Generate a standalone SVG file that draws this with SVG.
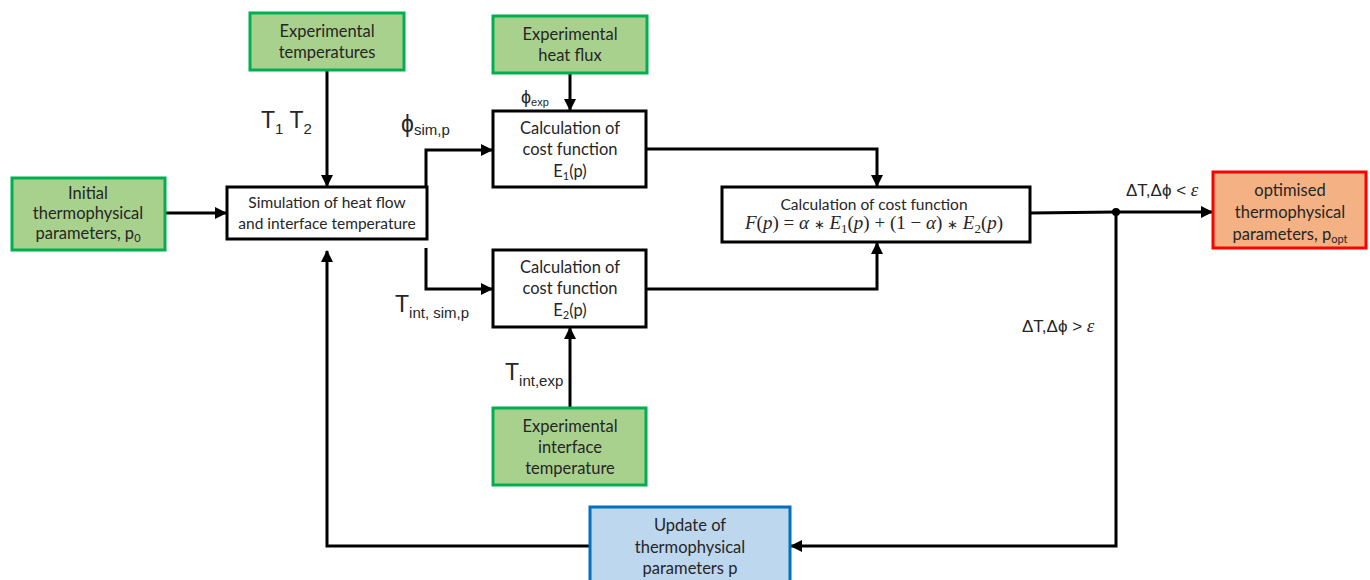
<svg xmlns="http://www.w3.org/2000/svg" width="1370" height="580" viewBox="0 0 1370 580">
<style>
.box{stroke-width:3}
.wht{fill:#ffffff;stroke:#000000}
.grn{fill:#a9d18e;stroke:#00b050}
.org{fill:#f4b183;stroke:#ff0000}
.blu{fill:#bdd7ee;stroke:#0070c0}
.t{font-family:Lato,"Liberation Sans",sans-serif;font-size:16.5px;fill:#262626;text-anchor:middle;dominant-baseline:central}
.ts{font-size:15.5px}
.lbl{font-family:"Liberation Sans",Lato,sans-serif;fill:#262626}
.math{font-family:"Liberation Serif",serif;font-size:19px;fill:#262626;text-anchor:middle}
.it{font-style:italic}
.ast{font-size:13px}
.conn{fill:none;stroke:#000000;stroke-width:3}
</style>
<defs>
<marker id="arr" viewBox="0 0 12 12" refX="11" refY="6" markerWidth="12" markerHeight="12" markerUnits="userSpaceOnUse" orient="auto">
<path d="M0,0 L12,6 L0,12 z" fill="#000000"/>
</marker>
</defs>
<rect width="1370" height="580" fill="#ffffff"/>

<g id="connectors">
<path class="conn" d="M327,70 V186" marker-end="url(#arr)"/>
<path class="conn" d="M165,213 H226" marker-end="url(#arr)"/>
<path class="conn" d="M426,188 V150 H492" marker-end="url(#arr)"/>
<path class="conn" d="M426,248 V289 H492" marker-end="url(#arr)"/>
<path class="conn" d="M570,73 V110" marker-end="url(#arr)"/>
<path class="conn" d="M646,149 H877 V186" marker-end="url(#arr)"/>
<path class="conn" d="M646,289 H877 V243" marker-end="url(#arr)"/>
<path class="conn" d="M570,408 V328" marker-end="url(#arr)"/>
<path class="conn" d="M1031,213 L1116,212 H1212" marker-end="url(#arr)"/>
<circle cx="1116" cy="212" r="4" fill="#000000"/>
<path class="conn" d="M1116,212 V546 H791" marker-end="url(#arr)"/>
<path class="conn" d="M590,546 H327 V251" marker-end="url(#arr)"/>
</g>

<g id="labels" class="lbl">
<text x="261" y="128" font-size="23">T<tspan font-size="15" dy="6">1</tspan><tspan dy="-6"> T</tspan><tspan font-size="15" dy="6">2</tspan></text>
<text x="401" y="132" font-size="23">ϕ<tspan font-size="15" dy="3">sim,p</tspan></text>
<text x="521" y="103" font-size="18">ϕ<tspan font-size="11" dy="3">exp</tspan></text>
<text x="395" y="312" font-size="23">T<tspan font-size="15" dy="6">int, sim,p</tspan></text>
<text x="505" y="380" font-size="23">T<tspan font-size="15" dy="6">int,exp</tspan></text>
<text x="1126" y="196" font-size="17">ΔT,Δϕ &lt; <tspan font-family="Liberation Serif,serif" font-style="italic" font-size="19">ε</tspan></text>
<text x="1022" y="332" font-size="17">ΔT,Δϕ &gt; <tspan font-family="Liberation Serif,serif" font-style="italic" font-size="19">ε</tspan></text>
</g>

<g id="exp-temperatures">
<rect class="box grn" x="250" y="13" width="154" height="57"/>
<text class="t" x="327" y="31">Experimental</text>
<text class="t" x="327" y="52">temperatures</text>
</g>

<g id="initial-parameters">
<rect class="box grn" x="12" y="178" width="153" height="72"/>
<text class="t" x="88" y="193">Initial</text>
<text class="t" x="88" y="213">thermophysical</text>
<text class="t" x="88" y="233">parameters, p<tspan font-size="11" dy="4">0</tspan></text>
</g>

<g id="simulation">
<rect class="box wht" x="227" y="187" width="200" height="52"/>
<text class="t ts" x="327" y="202">Simulation of heat flow</text>
<text class="t ts" x="327" y="223">and interface temperature</text>
</g>

<g id="exp-heat-flux">
<rect class="box grn" x="493" y="16" width="154" height="57"/>
<text class="t" x="570" y="34">Experimental</text>
<text class="t" x="570" y="55">heat flux</text>
</g>

<g id="cost-e1">
<rect class="box wht" x="493" y="111" width="153" height="76"/>
<text class="t" x="570" y="128">Calculation of</text>
<text class="t" x="570" y="149">cost function</text>
<text class="t" x="570" y="171">E<tspan font-size="11" dy="4">1</tspan><tspan dy="-4">(p)</tspan></text>
</g>

<g id="cost-e2">
<rect class="box wht" x="493" y="250" width="153" height="77"/>
<text class="t" x="570" y="267">Calculation of</text>
<text class="t" x="570" y="288">cost function</text>
<text class="t" x="570" y="310">E<tspan font-size="11" dy="4">2</tspan><tspan dy="-4">(p)</tspan></text>
</g>

<g id="exp-interface">
<rect class="box grn" x="493" y="408" width="153" height="77"/>
<text class="t" x="570" y="426">Experimental</text>
<text class="t" x="570" y="447">interface</text>
<text class="t" x="570" y="468">temperature</text>
</g>

<g id="cost-f">
<rect class="box wht" x="722" y="187" width="308" height="55"/>
<text class="t ts" x="874" y="204">Calculation of cost function</text>
<text class="math" x="874" y="229"><tspan class="it">F</tspan>(<tspan class="it">p</tspan>) = <tspan class="it">α</tspan> <tspan class="ast">∗</tspan> <tspan class="it">E</tspan><tspan font-size="13" dy="4">1</tspan><tspan dy="-4">(</tspan><tspan class="it">p</tspan>) + (1 − <tspan class="it">α</tspan>) <tspan class="ast">∗</tspan> <tspan class="it">E</tspan><tspan font-size="13" dy="4">2</tspan><tspan dy="-4">(</tspan><tspan class="it">p</tspan>)</text>
</g>

<g id="optimised">
<rect class="box org" x="1213" y="172" width="153" height="76"/>
<text class="t" x="1290" y="190">optimised</text>
<text class="t" x="1290" y="212">thermophysical</text>
<text class="t" x="1290" y="234">parameters, p<tspan font-size="11" dy="4">opt</tspan></text>
</g>

<g id="update">
<rect class="box blu" x="590" y="507" width="200" height="80"/>
<text class="t" x="690" y="525">Update of</text>
<text class="t" x="690" y="547">thermophysical</text>
<text class="t" x="690" y="568">parameters p</text>
</g>
</svg>
